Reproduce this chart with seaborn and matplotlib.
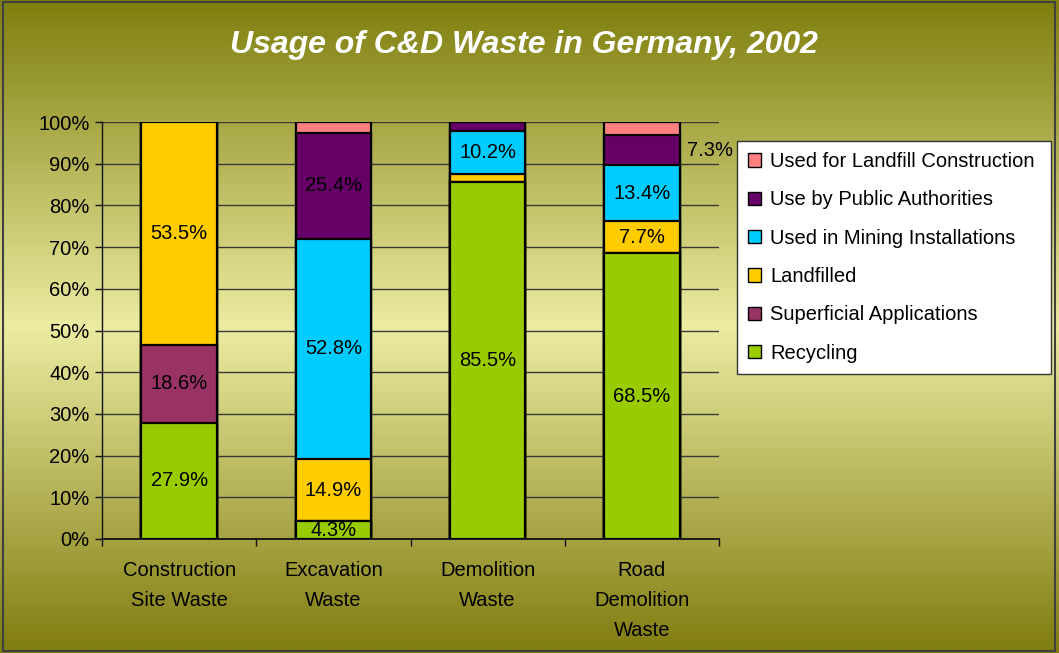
import numpy as np
import matplotlib
matplotlib.use("Agg")
import matplotlib.pyplot as plt
from matplotlib.patches import Patch, Rectangle
import seaborn as sns

# ---- data -------------------------------------------------------------
categories = ["Construction\nSite Waste", "Excavation\nWaste",
              "Demolition\nWaste", "Road\nDemolition\nWaste"]

series_names = ["Recycling", "Superficial Applications", "Landfilled",
                "Used in Mining Installations", "Use by Public Authorities",
                "Used for Landfill Construction"]

recycling = [27.9, 4.3, 85.5, 68.5]
superficial = [18.6, 0.0, 0.0, 0.0]
landfilled = [53.5, 14.9, 2.1, 7.7]
mining = [0.0, 52.8, 10.2, 13.4]
public_auth = [0.0, 25.4, 2.2, 7.3]
landfill_constr = [0.0, 2.6, 0.0, 3.1]

series_colors = ["#99CC00", "#993366", "#FFCC00", "#00CCFF", "#660066", "#FF8080"]

# segments that carry a value label (category index, series index)
labelled = [(0, 0), (0, 1), (0, 2),
            (1, 0), (1, 2), (1, 3), (1, 4),
            (2, 0), (2, 3),
            (3, 0), (3, 2), (3, 3)]
# label drawn beside the bar instead of inside it
outside_labelled = [(3, 4)]

title = "Usage of C&D Waste in Germany, 2002"

# ---- figure -----------------------------------------------------------
sns.set_style("ticks")
plt.rcParams["font.family"] = ["Liberation Sans", "DejaVu Sans"]
plt.rcParams["text.color"] = "black"
plt.rcParams["xtick.color"] = "black"
plt.rcParams["ytick.color"] = "black"

W, H = 1059, 653
fig = plt.figure(figsize=(W / 100, H / 100), dpi=100)

# olive -> pale yellow -> olive vertical gradient behind everything
bg = fig.add_axes([0, 0, 1, 1], zorder=-10)
t = np.linspace(0, 1, 600)
stops = np.array([0.0, 0.5, 1.0])
top_c = np.array([126, 126, 14]) / 255
mid_c = np.array([236, 236, 162]) / 255
bot_c = np.array([128, 124, 16]) / 255
grad = np.stack([np.interp(t, stops, [top_c[k], mid_c[k], bot_c[k]]) for k in range(3)], axis=-1)
bg.imshow(grad[:, None, :], aspect="auto", extent=[0, 1, 0, 1], origin="upper")
bg.set_axis_off()

ax = fig.add_axes([102 / W, 1 - 539 / H, (719 - 102) / W, (539 - 122) / H])
ax.set_facecolor("none")

values = np.array([recycling, superficial, landfilled, mining, public_auth, landfill_constr])
cum = np.cumsum(values, axis=0)

# stacked bars: draw cumulative totals from the top segment downwards
for i in reversed(range(len(series_names))):
    sns.barplot(x=categories, y=cum[i], order=categories, color=series_colors[i],
                saturation=1, width=0.49, edgecolor="black", linewidth=1.6,
                errorbar=None, ax=ax, zorder=3)

# value labels
for ci, si in labelled:
    v = values[si, ci]
    yc = cum[si, ci] - v / 2
    ax.text(ci, yc, f"{v:.1f}%", ha="center", va="center", fontsize=14.5,
            color="black", zorder=5)
for ci, si in outside_labelled:
    v = values[si, ci]
    yc = cum[si, ci] - v / 2
    ax.annotate(f"{v:.1f}%", xy=(ci + 0.245, yc), xytext=(5, 0),
                textcoords="offset points", ha="left", va="center",
                fontsize=14.5, color="black", zorder=5, annotation_clip=False)

# axes styling
ax.set_ylim(0, 100)
ax.set_xlim(-0.5, 3.5)
ax.set_xlabel("")
ax.set_ylabel("")
yt = np.arange(0, 101, 10)
ax.set_yticks(yt)
ax.set_yticklabels([f"{v}%" for v in yt], fontsize=14.5, color="black")
ax.yaxis.grid(True, color="#3a3a3a", linewidth=1.0, zorder=0)
ax.set_axisbelow(True)
ax.tick_params(axis="y", length=5, width=1, color="#111111", pad=4)

ax.set_xticks(range(len(categories)))
ax.set_xticklabels(categories, fontsize=14.5, color="black", linespacing=1.72)
ax.set_xticks([-0.5, 0.5, 1.5, 2.5, 3.5], minor=True)
ax.tick_params(axis="x", which="major", length=0, pad=16)
ax.tick_params(axis="x", which="minor", length=5, width=1, color="#111111")

for s in ["top", "right"]:
    ax.spines[s].set_visible(False)
ax.spines["left"].set_color("#111111")
ax.spines["left"].set_linewidth(1.0)
ax.spines["bottom"].set_color("#1a1a1a")
ax.spines["bottom"].set_linewidth(1.4)

# legend (top segment first)
handles = [Patch(facecolor=series_colors[i], edgecolor="black", linewidth=1.0)
           for i in reversed(range(len(series_names)))]
labels = [series_names[i] for i in reversed(range(len(series_names)))]
fig.legend(handles, labels, loc="upper left",
           bbox_to_anchor=(737 / W, 1 - 141 / H, (1051 - 737) / W, 0),
           mode="expand", borderaxespad=0, fontsize=14.5, frameon=True,
           fancybox=False, facecolor="white", edgecolor="#333333", framealpha=1,
           handlelength=0.65, handleheight=0.65, handletextpad=0.45,
           labelspacing=0.96, borderpad=0.55)

# title
fig.text(524 / W, 1 - 45 / H, title, ha="center", va="center", color="white",
         fontsize=23, style="italic", weight="bold")

# outer frame
fig.patches.append(Rectangle((3 / W, 2 / H), (1055 - 3) / W, (651 - 2) / H,
                             transform=fig.transFigure, fill=False,
                             edgecolor="#404040", linewidth=1.5, zorder=20))

fig.savefig("out.png", dpi=100)
